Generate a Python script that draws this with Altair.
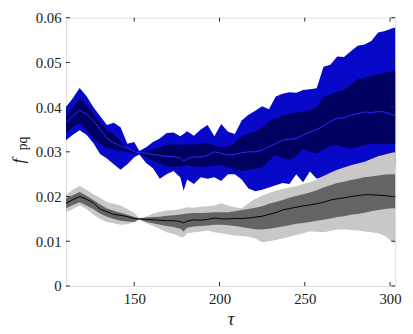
import altair as alt
import pandas as pd

tau = [110,114,118,122,126,130,134,138,142,146,
       150,153,157,161,165,169,173,177,179,181,
       185,189,193,197,201,205,209,213,217,221,
       225,229,233,237,241,245,249,253,257,261,
       265,269,273,277,281,285,289,293,297,301,
       303]

blue_outer_hi = [.0400,.0420,.0443,.0425,.0400,.0380,.0360,.0365,.0355,.0318,
                 .0322,.0302,.0310,.0322,.0330,.0342,.0343,.0335,.0340,.0346,
                 .0336,.0350,.0360,.0335,.0362,.0345,.0340,.0370,.0383,.0392,
                 .0402,.0395,.0424,.0430,.0433,.0432,.0438,.0440,.0442,.0490,
                 .0495,.0513,.0512,.0525,.0537,.0540,.0548,.0567,.0570,.0576,
                 .0578]
blue_inner_hi = [.0380,.0398,.0420,.0405,.0385,.0365,.0348,.0340,.0325,.0307,
                 .0303,.0298,.0302,.0305,.0310,.0315,.0317,.0316,.0316,.0317,
                 .0316,.0320,.0319,.0314,.0310,.0312,.0320,.0334,.0340,.0346,
                 .0354,.0368,.0375,.0380,.0385,.0388,.0390,.0393,.0400,.0424,
                 .0428,.0435,.0438,.0450,.0462,.0465,.0470,.0473,.0477,.0480,
                 .0480]
blue_mid = [.0365,.0380,.0393,.0385,.0370,.0350,.0330,.0320,.0313,.0308,
            .0300,.0298,.0297,.0294,.0292,.0290,.0289,.0286,.0280,.0284,
            .0289,.0288,.0292,.0300,.0297,.0293,.0294,.0298,.0300,.0300,
            .0304,.0312,.0318,.0326,.0328,.0330,.0338,.0344,.0350,.0358,
            .0368,.0375,.0376,.0382,.0385,.0389,.0388,.0390,.0389,.0383,
            .0380]
blue_inner_lo = [.0343,.0355,.0365,.0350,.0330,.0318,.0308,.0305,.0302,.0300,
                 .0296,.0295,.0288,.0280,.0275,.0268,.0266,.0268,.0269,.0270,
                 .0268,.0266,.0267,.0270,.0270,.0265,.0260,.0257,.0260,.0262,
                 .0265,.0280,.0293,.0285,.0283,.0290,.0307,.0300,.0296,.0305,
                 .0313,.0315,.0310,.0307,.0310,.0315,.0318,.0318,.0318,.0318,
                 .0318]
blue_outer_lo = [.0326,.0338,.0348,.0338,.0320,.0295,.0285,.0272,.0260,.0272,
                 .0288,.0294,.0275,.0263,.0240,.0250,.0257,.0243,.0213,.0238,
                 .0228,.0243,.0240,.0243,.0235,.0250,.0250,.0238,.0218,.0212,
                 .0215,.0220,.0225,.0230,.0228,.0250,.0232,.0256,.0240,.0245,
                 .0248,.0250,.0250,.0252,.0255,.0258,.0260,.0262,.0265,.0268,
                 .0268]

gray_outer_hi = [.0204,.0215,.0224,.0215,.0205,.0197,.0188,.0184,.0180,.0172,
                 .0163,.0152,.0155,.0162,.0166,.0169,.0170,.0172,.0174,.0176,
                 .0175,.0177,.0178,.0180,.0185,.0180,.0176,.0174,.0185,.0195,
                 .0202,.0208,.0213,.0217,.0220,.0223,.0228,.0232,.0238,.0246,
                 .0253,.0260,.0265,.0270,.0274,.0278,.0284,.0290,.0294,.0298,
                 .0300]
gray_inner_hi = [.0196,.0203,.0210,.0202,.0192,.0182,.0173,.0168,.0164,.0159,
                 .0154,.0151,.0153,.0154,.0155,.0157,.0158,.0160,.0161,.0162,
                 .0163,.0163,.0164,.0165,.0165,.0165,.0167,.0170,.0172,.0175,
                 .0178,.0184,.0188,.0192,.0197,.0201,.0205,.0209,.0214,.0220,
                 .0225,.0230,.0233,.0237,.0240,.0243,.0245,.0247,.0249,.0250,
                 .0250]
gray_mid = [.0185,.0193,.0200,.0194,.0186,.0172,.0166,.0160,.0158,.0155,
            .0151,.0150,.0149,.0148,.0147,.0146,.0146,.0144,.0141,.0145,
            .0148,.0147,.0149,.0152,.0150,.0150,.0151,.0151,.0152,.0154,
            .0156,.0160,.0164,.0170,.0173,.0176,.0179,.0181,.0184,.0187,
            .0192,.0195,.0197,.0200,.0202,.0204,.0204,.0203,.0202,.0200,
            .0200]
gray_inner_lo = [.0174,.0181,.0187,.0180,.0172,.0162,.0155,.0150,.0146,.0144,
                 .0143,.0149,.0143,.0140,.0137,.0134,.0132,.0128,.0122,.0130,
                 .0133,.0134,.0135,.0137,.0137,.0136,.0134,.0132,.0129,.0127,
                 .0126,.0128,.0130,.0133,.0136,.0139,.0141,.0143,.0146,.0148,
                 .0151,.0154,.0156,.0159,.0161,.0164,.0167,.0170,.0172,.0174,
                 .0174]
gray_outer_lo = [.0165,.0172,.0180,.0172,.0160,.0150,.0143,.0140,.0137,.0138,
                 .0143,.0148,.0140,.0134,.0128,.0120,.0116,.0110,.0109,.0118,
                 .0120,.0122,.0124,.0120,.0118,.0115,.0113,.0112,.0110,.0106,
                 .0098,.0100,.0103,.0106,.0110,.0114,.0118,.0122,.0121,.0120,
                 .0123,.0126,.0126,.0125,.0124,.0122,.0120,.0118,.0112,.0100,
                 .0096]

x_ticks = [150, 200, 250, 300]
y_ticks = [0, 0.01, 0.02, 0.03, 0.04, 0.05, 0.06]

df = pd.DataFrame({
    "tau": tau,
    "bou": blue_outer_hi, "biu": blue_inner_hi, "bm": blue_mid,
    "bil": blue_inner_lo, "bol": blue_outer_lo,
    "gou": gray_outer_hi, "giu": gray_inner_hi, "gm": gray_mid,
    "gil": gray_inner_lo, "gol": gray_outer_lo,
})
xt = pd.DataFrame({"t": x_ticks})
yt = pd.DataFrame({"v": y_ticks})

W, H = 335, 273
TOP = 7
FONT = "Times New Roman"
TXT = "#1a1a1a"

xscale = alt.Scale(domain=[110, 303], nice=False, zero=False)
yscale = alt.Scale(domain=[0, 0.06], nice=False)

X = alt.X("tau:Q", scale=xscale,
          axis=alt.Axis(values=x_ticks, title="τ", titleFontStyle="italic",
                        titleFontSize=19, titleFontWeight="normal",
                        titlePadding=3, labelPadding=6,
                        labelFont=FONT, titleFont=FONT, labelColor=TXT, titleColor=TXT,
                        labelFontSize=15, tickSize=0, domain=False, grid=False))
Y = alt.Y("bol:Q", scale=yscale,
          axis=alt.Axis(values=y_ticks, format="~g", title=None, labelPadding=5,
                        labelFont=FONT, labelFontSize=15, labelColor=TXT, tickSize=0,
                        domain=False, grid=False))

base = alt.Chart(df)

def band(lo, hi, color):
    return base.mark_area(color=color, opacity=1, interpolate="linear").encode(
        x=alt.X("tau:Q", scale=xscale),
        y=alt.Y(f"{lo}:Q", scale=yscale),
        y2=f"{hi}:Q")

def line(f, color, w=1.0):
    return base.mark_line(color=color, strokeWidth=w).encode(
        x=alt.X("tau:Q", scale=xscale),
        y=alt.Y(f"{f}:Q", scale=yscale))

axes_layer = base.mark_area(opacity=0).encode(x=X, y=Y, y2="bou:Q")

layers = [
    axes_layer,
    band("bol", "bou", "#0808c8"),
    band("bil", "biu", "#000060"),
    line("bm", "#2a2aff", 1.0),
    band("gol", "gou", "#c8c8c8"),
    band("gil", "giu", "#646464"),
    line("gm", "#000000", 1.0),
]

tc = "#262626"
tick_b = alt.Chart(xt).mark_rule(color=tc, strokeWidth=1).encode(
    x=alt.X("t:Q", scale=xscale), y=alt.value(H), y2=alt.value(H - 4))
tick_t = alt.Chart(xt).mark_rule(color=tc, strokeWidth=1).encode(
    x=alt.X("t:Q", scale=xscale), y=alt.value(0), y2=alt.value(4))
tick_l = alt.Chart(yt).mark_rule(color=tc, strokeWidth=1).encode(
    y=alt.Y("v:Q", scale=yscale), x=alt.value(0), x2=alt.value(4))
tick_r = alt.Chart(yt).mark_rule(color=tc, strokeWidth=1).encode(
    y=alt.Y("v:Q", scale=yscale), x=alt.value(W), x2=alt.value(W - 4))

lab_f = alt.Chart(pd.DataFrame({"s": ["f"]})).mark_text(
    font=FONT, fontSize=18, fontStyle="italic", angle=270, color=TXT,
    align="center", baseline="middle").encode(
    text="s:N", x=alt.value(-48), y=alt.value(146))
lab_pq = alt.Chart(pd.DataFrame({"s": ["pq"]})).mark_text(
    font=FONT, fontSize=14, angle=270, color=TXT,
    align="center", baseline="middle").encode(
    text="s:N", x=alt.value(-44), y=alt.value(128))

chart = alt.layer(*layers, tick_b, tick_t, tick_l, tick_r, lab_f, lab_pq).properties(
    width=W, height=H,
    padding={"left": 59, "top": TOP, "right": 10, "bottom": 44},
    autosize=alt.AutoSizeParams(type="none"),
).configure_view(stroke="#262626", strokeWidth=1).configure(font=FONT)

chart.save("out.html", embed_options={"renderer": "svg", "actions": False})
